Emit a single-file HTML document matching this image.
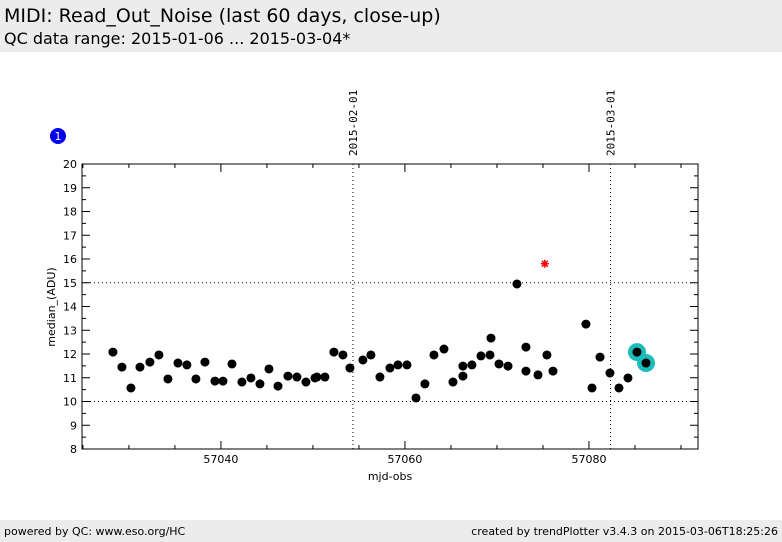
<!DOCTYPE html>
<html><head><meta charset="utf-8"><style>
body{margin:0;width:782px;height:542px;background:#fff;overflow:hidden;font-family:"DejaVu Sans","Liberation Sans",sans-serif;position:relative}
.band{position:absolute;left:0;width:782px;background:#ececec}
</style></head><body>
<div class="band" style="top:0;height:52px">
<div style="position:absolute;left:4px;top:5px;font-size:19px">MIDI: Read_Out_Noise (last 60 days, close-up)</div>
<div style="position:absolute;left:4px;top:29px;font-size:16px">QC data range: 2015-01-06 ... 2015-03-04*</div>
</div>
<div class="band" style="top:520px;height:22px;font-size:11px">
<span style="position:absolute;left:4px;top:5px">powered by QC: www.eso.org/HC</span>
<span style="position:absolute;right:4px;top:5px">created by trendPlotter v3.4.3 on 2015-03-06T18:25:26</span>
</div>
<svg id="c" width="782" height="542" style="position:absolute;left:0;top:0"></svg>
<script>
const xs=[57028.26,57029.24,57030.22,57031.2,57032.28,57033.26,57034.24,57035.33,57036.3,57037.28,57038.26,57039.35,57040.22,57041.2,57042.28,57043.26,57044.24,57045.22,57046.2,57047.28,57048.26,57049.24,57050.22,57050.43,57051.3,57052.28,57053.26,57054.02,57055.43,57056.3,57057.28,57058.37,57059.24,57060.22,57061.2,57062.17,57063.15,57064.24,57065.22,57066.3,57066.3,57067.28,57068.26,57069.24,57069.35,57070.22,57071.2,57072.17,57073.15,57073.15,57074.46,57075.43,57076.09,57079.67,57080.33,57081.2,57082.28,57083.26,57084.24,57085.22,57086.2];
const ys=[12.08,11.45,10.57,11.45,11.66,11.96,10.95,11.62,11.54,10.95,11.66,10.86,10.86,11.58,10.82,10.99,10.74,11.37,10.65,11.07,11.03,10.82,10.99,11.03,11.03,12.08,11.96,11.41,11.75,11.96,11.03,11.41,11.54,11.54,10.15,10.74,11.96,12.21,10.82,11.49,11.07,11.54,11.92,11.96,12.67,11.58,11.49,14.95,12.29,11.28,11.12,11.96,11.28,13.26,10.57,11.87,11.2,10.57,10.99,12.08,11.62];
const highlighted=[59,60];
const outlierX=[57075.2], outlierY=[15.8];
const xTicks=[57040,57060,57080];
const yTicks=[8,9,10,11,12,13,14,15,16,17,18,19,20];
const dateX=[57054.35,57082.35], dateLabels=["2015-02-01","2015-03-01"];
const hLines=[10,15];
const L=82,R=698,T=164,B=449,x0=57024.9,x1=57091.85,y0=8,y1=20;
const sx=v=>L+(v-x0)/(x1-x0)*(R-L), sy=v=>B-(v-y0)/(y1-y0)*(B-T);
const svg=document.getElementById('c');const NS='http://www.w3.org/2000/svg';
function mk(t,a,txt){const e=document.createElementNS(NS,t);for(const k in a)e.setAttribute(k,a[k]);if(txt!=null)e.textContent=txt;svg.appendChild(e);return e;}
hLines.forEach(v=>{const e=mk('line',{x1:L,x2:R,y1:sy(v),y2:sy(v),stroke:'#000','stroke-dasharray':'1,3'});

});
dateX.forEach((v,i)=>{const x=sx(v);const e=mk('line',{x1:x,x2:x,y1:T,y2:B,stroke:'#000','stroke-dasharray':'1,3'});


const t=mk('text',{x:0,y:0,transform:`translate(${x+4},156) rotate(-90)`,'font-size':11,'font-family':'DejaVu Sans Mono,Liberation Mono,monospace'},dateLabels[i]);

});
for(let v=57025;v<=57090;v+=5){const x=sx(v);const maj=xTicks.includes(v);const l=maj?8:4;
mk('line',{x1:x,x2:x,y1:B,y2:B-l,stroke:'#000'});mk('line',{x1:x,x2:x,y1:T,y2:T+l,stroke:'#000'});}
xTicks.forEach(v=>{const t=mk('text',{x:sx(v),y:B+14,'text-anchor':'middle','font-size':11},v);

});
for(let v=8;v<=20;v+=0.5){const y=sy(v);const l=Number.isInteger(v)?8:4;
mk('line',{x1:L,x2:L+l,y1:y,y2:y,stroke:'#000'});mk('line',{x1:R,x2:R-l,y1:y,y2:y,stroke:'#000'});}
yTicks.forEach(v=>{const t=mk('text',{x:77,y:sy(v)+4,'text-anchor':'end','font-size':11},v);

});
const fr=mk('rect',{x:L,y:T,width:R-L,height:B-T,fill:'none',stroke:'#000','stroke-width':1});


highlighted.forEach(i=>{const c=mk('circle',{cx:sx(xs[i]),cy:sy(ys[i]),r:9,fill:'#1bbcbc'});

});
xs.forEach((v,i)=>{const c=mk('circle',{cx:sx(v),cy:sy(ys[i]),r:4.5,fill:'#000'});

});
outlierX.forEach((v,i)=>{const cx=sx(v),cy=sy(outlierY[i]),s=4;
const p=mk('path',{d:`M${cx-s} ${cy}H${cx+s}M${cx} ${cy-s}V${cy+s}M${cx-3} ${cy-3}L${cx+3} ${cy+3}M${cx-3} ${cy+3}L${cx+3} ${cy-3}`,stroke:'#f00','stroke-width':1.5,fill:'none'});

});
const xl=mk('text',{x:390,y:480,'text-anchor':'middle','font-size':11},'mjd-obs');


const yl=mk('text',{x:0,y:0,transform:'translate(55,307) rotate(-90)','text-anchor':'middle','font-size':11},'median_(ADU)');


const b=mk('circle',{cx:58,cy:136,r:8,fill:'#0000ee'});


const bt=mk('text',{x:58,y:140,'text-anchor':'middle','font-size':11,fill:'#fff'},'1');


</script>
</body></html>
